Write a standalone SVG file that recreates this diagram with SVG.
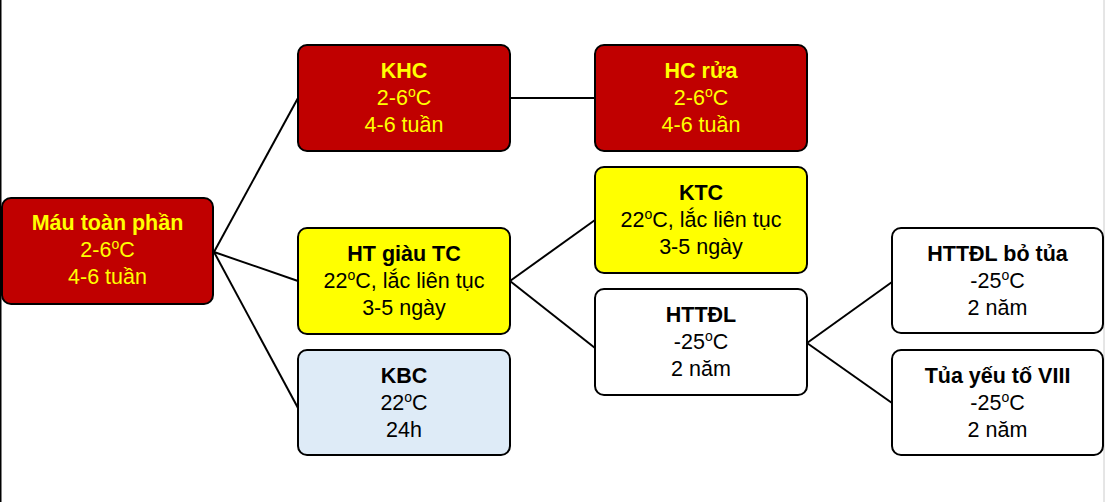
<svg xmlns="http://www.w3.org/2000/svg" width="1105" height="502" viewBox="0 0 1105 502">
<style>
.box{stroke:#000;stroke-width:2}
.red{fill:#C00000}
.yel{fill:#FFFF00}
.blu{fill:#DEEBF7}
.wht{fill:#FFFFFF}
text{font-family:"Liberation Sans",Arial,sans-serif;font-size:21.5px;text-anchor:middle}
.t-y{fill:#FFFF00}
.t-k{fill:#000}
.b{font-weight:bold}
.sup{font-size:14px}
.conn line{stroke:#000;stroke-width:2}
</style>
<rect x="0" y="0" width="1105" height="502" fill="#fff"/>
<line x1="0.5" y1="0" x2="0.5" y2="502" stroke="#000" stroke-width="2"/>
<line x1="1104" y1="0" x2="1104" y2="502" stroke="#ccc" stroke-width="1"/>
<g class="conn">
<line x1="214" y1="252" x2="298" y2="98"/>
<line x1="214" y1="252" x2="298" y2="281"/>
<line x1="214" y1="252" x2="298" y2="408"/>
<line x1="510" y1="98" x2="595" y2="98"/>
<line x1="510" y1="281" x2="595" y2="220"/>
<line x1="510" y1="281" x2="595" y2="348"/>
<line x1="807" y1="343" x2="892" y2="282"/>
<line x1="807" y1="343" x2="892" y2="403"/>
</g>
<g id="n-mau">
<rect class="box red" x="2" y="198" width="211" height="106" rx="9"/>
<text class="t-y b" x="107.5" y="230">Máu toàn phần</text>
<text class="t-y" x="107.5" y="257">2-6<tspan class="sup" dy="-8">o</tspan><tspan dy="8">C</tspan></text>
<text class="t-y" x="107.5" y="284">4-6 tuần</text>
</g>
<g id="n-khc">
<rect class="box red" x="298" y="45" width="212" height="106" rx="9"/>
<text class="t-y b" x="404" y="78">KHC</text>
<text class="t-y" x="404" y="105">2-6<tspan class="sup" dy="-8">o</tspan><tspan dy="8">C</tspan></text>
<text class="t-y" x="404" y="132">4-6 tuần</text>
</g>
<g id="n-hcrua">
<rect class="box red" x="595" y="45" width="212" height="106" rx="9"/>
<text class="t-y b" x="701" y="78">HC rửa</text>
<text class="t-y" x="701" y="105">2-6<tspan class="sup" dy="-8">o</tspan><tspan dy="8">C</tspan></text>
<text class="t-y" x="701" y="132">4-6 tuần</text>
</g>
<g id="n-htgiau">
<rect class="box yel" x="298" y="228" width="212" height="106" rx="9"/>
<text class="t-k b" x="404" y="261">HT giàu TC</text>
<text class="t-k" x="404" y="288">22<tspan class="sup" dy="-8">o</tspan><tspan dy="8">C, lắc liên tục</tspan></text>
<text class="t-k" x="404" y="315">3-5 ngày</text>
</g>
<g id="n-kbc">
<rect class="box blu" x="298" y="350" width="212" height="105" rx="9"/>
<text class="t-k b" x="404" y="383">KBC</text>
<text class="t-k" x="404" y="410">22<tspan class="sup" dy="-8">o</tspan><tspan dy="8">C</tspan></text>
<text class="t-k" x="404" y="437">24h</text>
</g>
<g id="n-ktc">
<rect class="box yel" x="595" y="167" width="212" height="106" rx="9"/>
<text class="t-k b" x="701" y="200">KTC</text>
<text class="t-k" x="701" y="227">22<tspan class="sup" dy="-8">o</tspan><tspan dy="8">C, lắc liên tục</tspan></text>
<text class="t-k" x="701" y="254">3-5 ngày</text>
</g>
<g id="n-httdl">
<rect class="box wht" x="595" y="289" width="212" height="106" rx="9"/>
<text class="t-k b" x="701" y="322">HTTĐL</text>
<text class="t-k" x="701" y="349">-25<tspan class="sup" dy="-8">o</tspan><tspan dy="8">C</tspan></text>
<text class="t-k" x="701" y="376">2 năm</text>
</g>
<g id="n-botua">
<rect class="box wht" x="892" y="228" width="211" height="105" rx="9"/>
<text class="t-k b" x="997.5" y="261">HTTĐL bỏ tủa</text>
<text class="t-k" x="997.5" y="288">-25<tspan class="sup" dy="-8">o</tspan><tspan dy="8">C</tspan></text>
<text class="t-k" x="997.5" y="315">2 năm</text>
</g>
<g id="n-tua8">
<rect class="box wht" x="892" y="350" width="211" height="105" rx="9"/>
<text class="t-k b" x="997.5" y="383">Tủa yếu tố VIII</text>
<text class="t-k" x="997.5" y="410">-25<tspan class="sup" dy="-8">o</tspan><tspan dy="8">C</tspan></text>
<text class="t-k" x="997.5" y="437">2 năm</text>
</g>
</svg>
